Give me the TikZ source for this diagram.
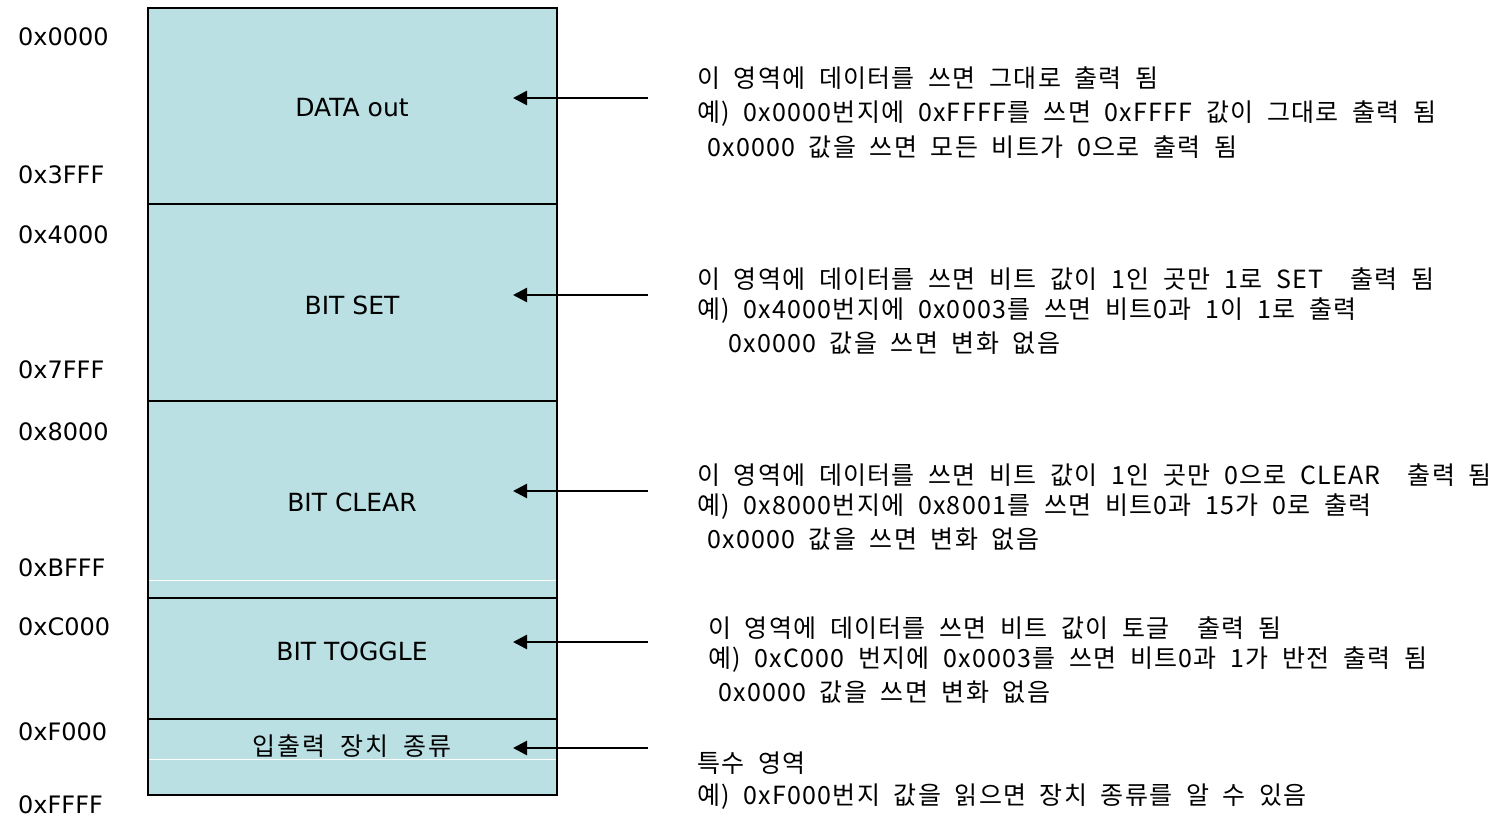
\documentclass[tikz,border=0pt]{standalone}
\usepackage{fontspec}
\setmainfont{DejaVu Sans}
\newfontfamily\kr[LetterSpace=5,WordSpace=2]{Noto Sans CJK KR}
\newfontfamily\krlabel[LetterSpace=8,WordSpace=2]{Noto Sans CJK KR}
\usetikzlibrary{arrows.meta}
\definecolor{memfill}{RGB}{186,224,227}
\begin{document}
\begin{tikzpicture}[x=1pt,y=-1pt,
  addr/.style={anchor=west,inner sep=0pt,font=\fontsize{24}{28}\selectfont},
  region/.style={inner sep=0pt,font=\fontsize{25}{30}\selectfont},
  regionkr/.style={inner sep=0pt,font=\krlabel\fontsize{25}{30}\selectfont},
  note/.style={anchor=west,inner sep=0pt,font=\kr\fontsize{25}{30}\selectfont},
  frame/.style={line width=2.5pt},
  pointer/.style={line width=2.5pt,-{Triangle[length=14pt,width=14pt]}}]
\useasboundingbox (0,0) rectangle (1508,818);
% memory block
\fill[memfill] (148,8) rectangle (557,795);
\draw[white,line width=1pt] (148,580) -- (557,580);
\draw[white,line width=1pt] (148,759) -- (557,759);
\draw[frame] (148,8) rectangle (557,795);
\draw[frame] (148,204) -- (557,204);
\draw[frame] (148,401) -- (557,401);
\draw[frame] (148,598) -- (557,598);
\draw[frame] (148,719) -- (557,719);
% region labels
\node[region] (r1) at (352,108) {DATA out};
\node[region] (r2) at (352,305) {BIT SET};
\node[region] (r3) at (352,502) {BIT CLEAR};
\node[region] (r4) at (352,651) {BIT TOGGLE};
\node[regionkr] (r5) at (352,746) {입출력 장치 종류};
% addresses
\node[addr] (a1) at (18,37) {0x0000};
\node[addr] (a2) at (18,175) {0x3FFF};
\node[addr] (a3) at (18,235) {0x4000};
\node[addr] (a4) at (18,370) {0x7FFF};
\node[addr] (a5) at (18,432) {0x8000};
\node[addr] (a6) at (18,568) {0xBFFF};
\node[addr] (a7) at (18,627) {0xC000};
\node[addr] (a8) at (18,732) {0xF000};
\node[addr] (a9) at (18,805) {0xFFFF};
% arrows
\coordinate (s1) at (648,98);  \coordinate (t1) at (513,98);
\coordinate (s2) at (648,295); \coordinate (t2) at (513,295);
\coordinate (s3) at (648,491); \coordinate (t3) at (513,491);
\coordinate (s4) at (648,642); \coordinate (t4) at (513,642);
\coordinate (s5) at (648,748); \coordinate (t5) at (513,748);
\draw[pointer] (s1) -- (t1);
\draw[pointer] (s2) -- (t2);
\draw[pointer] (s3) -- (t3);
\draw[pointer] (s4) -- (t4);
\draw[pointer] (s5) -- (t5);
% notes
\node[note] (n1a) at (697,78)  {이 영역에 데이터를 쓰면 그대로 출력 됨};
\node[note] (n1b) at (697,114) {예) 0x0000번지에 0xFFFF를 쓰면 0xFFFF 값이 그대로 출력 됨};
\node[note] (n1c) at (707,147) {0x0000 값을 쓰면 모든 비트가 0으로 출력 됨};
\node[note] (n2a) at (697,279) {이 영역에 데이터를 쓰면 비트 값이 1인 곳만 1로 SET\ \ 출력 됨};
\node[note] (n2b) at (697,311) {예) 0x4000번지에 0x0003를 쓰면 비트0과 1이 1로 출력};
\node[note] (n2c) at (728,343) {0x0000 값을 쓰면 변화 없음};
\node[note] (n3a) at (697,475) {이 영역에 데이터를 쓰면 비트 값이 1인 곳만 0으로 CLEAR\ \ 출력 됨};
\node[note] (n3b) at (697,507) {예) 0x8000번지에 0x8001를 쓰면 비트0과 15가 0로 출력};
\node[note] (n3c) at (707,539) {0x0000 값을 쓰면 변화 없음};
\node[note] (n4a) at (708,628) {이 영역에 데이터를 쓰면 비트 값이 토글\ \ 출력 됨};
\node[note] (n4b) at (708,660) {예) 0xC000 번지에 0x0003를 쓰면 비트0과 1가 반전 출력 됨};
\node[note] (n4c) at (718,692) {0x0000 값을 쓰면 변화 없음};
\node[note] (n5a) at (697,763) {특수 영역};
\node[note] (n5b) at (697,797) {예) 0xF000번지 값을 읽으면 장치 종류를 알 수 있음};
\end{tikzpicture}
\end{document}
